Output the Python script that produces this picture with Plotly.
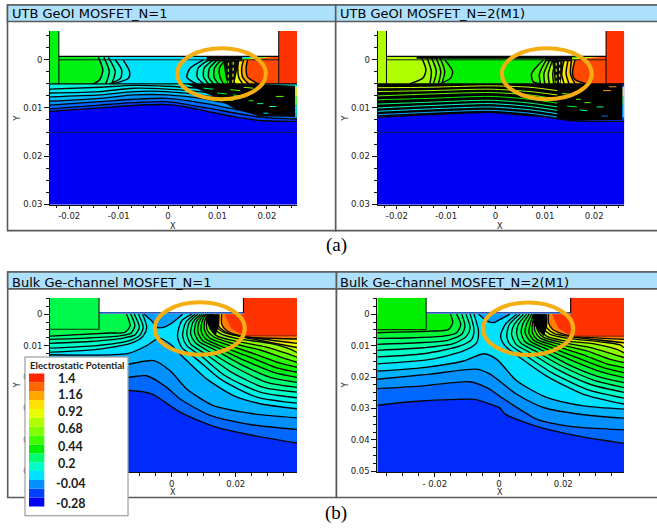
import plotly.graph_objects as go

W, H = 657, 529
YS = 1.006

# ---------- legend ----------
LEGEND_LEVELS = [-0.28,-0.16,-0.04,0.08,0.2,0.32,0.44,0.56,0.68,0.8,0.92,1.04,1.16,1.28,1.4]
LEGEND_COLORS = ["#0000f4","#0040ff","#0090ff","#00e0ff","#00ffc8","#00ff70","#00f000","#40ff00",
                 "#80ff00","#b0ff00","#e8ff00","#ffe000","#ffa800","#ff6800","#ff2800"]
LEGEND_LABELS = ["1.4","1.16","0.92","0.68","0.44","0.2","-0.04","-0.28"]

# ---------- axis ticks (values in um) ----------
UTB_XTICKS = [-0.02,-0.01,0,0.01,0.02]
UTB_XTEXT = ["-0.02","-0.01","0","0.01","0.02"]
UTB_YTICKS = [0,0.01,0.02,0.03]
UTB_YTEXT = ["0","0.01","0.02","0.03"]
BULK_XTICKS = [-0.02,0,0.02]
BULK_XTEXT = ["- 0.02","0","0.02"]
BULK_YTICKS = [0,0.01,0.02,0.03,0.04,0.05]
BULK_YTEXT = ["0","0.01","0.02","0.03","0.04","0.05"]

# ---------- UTB GeOI N=1 : contours, nm ----------
A1_SPAN_X = [[-23.9,-13.8,-7,-0.3,3.1,7.8,13.2,18.6,26.1],
             [-23.9,-13.8,-7,-0.3,7.8,18.6,26.1],[-23.9,-13.8,-7,-0.3,7.8,18.6,26.1],
             [-23.9,-13.8,-7,-0.3,7.8,18.6,26.1],[-23.9,-13.8,-7,-0.3,7.8,18.6,26.1],
             [-23.9,-13.8,-7,-0.3,7.8,18.6,26.1],[-23.9,-13.8,-7,-0.3,7.8,18.6,26.1]]
A1_SPAN_Y = [[10.7,10,9.5,9.3,9.7,10.7,11.8,12.6,12.8],
             [10.2,9.4,8.9,8.7,10,11.9,12.3],[9.4,8.7,8.2,8,9.1,11.3,11.8],
             [8.6,8,7.3,7.3,8.2,10.4,11.4],[7.7,7.3,6.6,6.6,7.5,9.7,11.1],
             [6.9,6.6,5.9,6.1,6.8,9,10.4],[6.1,5.7,5.3,5.5,6.1,8.3,9.7]]
A1_SPAN_V = [-0.16,-0.1,-0.04,0.02,0.08,0.12,0.16]
A1_DENSE_X = [3.8,9.2,13.2,18.6,25.7,25.7,18]
A1_DENSE_Y = [5,7.6,10,11.8,11.8,5.4,5]
A1_DASH_X = [[21.8,23.4],[18,19.3],[20.5,21.9],[19.3,20.3],[16.3,17.3],[7.2,9.2],[9.9,11.9],[12.6,14.6],[9.2,10.9],[11.9,13.2],[13.2,14.9],[15.3,17.3]]
A1_DASH_Y = [[7.6,7.6],[9.1,9.1],[9.7,9.7],[11.1,11.1],[8.5,8.5],[5.9,6.1],[6.9,7.1],[6.2,6.4],[8,8.2],[8.3,8.5],[7.3,7.5],[5.7,5.9]]
A1_DASH_V = [0.6,0.3,0.2,0.1,0.5,0.3,0.4,0.6,0.3,0.4,0.5,0.7]
A1_CHANNEL_V = 0.08
A1_SOURCE_V = 0.42
A1_LEFT_X = [[-9.1,-7.8,-8,-11.1],[-10.7,-9.4,-9.6,-11.8],[-12.1,-10.7,-11.4],[-13,-11.9,-12.6],[-14.1,-13.2,-13.8,-15.1]]
A1_LEFT_Y = [[0,2.4,3.8,5],[0,2.1,3.8,5],[-0.5,2.4,5],[-0.5,2.4,5],[-0.5,2.1,4.1,5]]
A1_LEFT_V = [0.14,0.2,0.26,0.32,0.42]
A1_RIGHT_X = [[7.2,4.5,3.8,5.8],[8.2,6.1,5.9,7.2],[9.2,7.3,7.2,8.2],[10,8.4,8.2,9.2],[10.8,9.4,9.3,10.2],[11.6,10.4,10.5,11.2],
              [12.4,11.6,11.8,12.2],[13.2,12.9,12.9,13.6],[14.3,14.1,14.3,15.1],[15.3,14.9,15.1,16.3],[16.1,15.8,16.1,18.3]]
A1_RIGHT_Y = [[0,1.7,3.6,5]]*11
A1_RIGHT_V = [0.14,0.2,0.28,0.34,0.4,0.44,0.5,0.92,1.04,1.16,1.34]
A1_TOPDARK_X = [7.8,15,15,7.8]
A1_TOPDARK_Y = [-0.7,-0.7,0.3,0.3]
A1_CORE_X = [11,14.3,14,13.4,12.2,11.6]
A1_CORE_Y = [0,0,2,5,5,2.5]
A1_SPECK_X = [[12.2,12.2],[13.2,13.1]]
A1_SPECK_Y = [[0.6,4.8],[0.4,4.8]]
A1_SPECK_V = [0.7,0.95]

# ---------- UTB GeOI N=2 : contours, nm ----------
A2_SPAN_X = [[-23.9,-13.3,-1.1,4.3,9.7,15.1,26.1]]
A2_SPAN_Y = [[11.9,11.4,10.9,11.4,11.8,12.6,12.8]]
A2_SPAN_V = [-0.16]
A2_DENSE_X = [-23.9,-13.3,-1.1,4.3,9.7,15.1,25.7,25.7,-23.9]
A2_DENSE_Y = [11.8,11.3,10.8,11.3,11.7,12.5,12.5,5,5]
A2_STRIPE_X = [-23.9,-13.3,-1.1,7,12.5]
A2_STRIPE_Y = [[11.4,10.9,10.5,11.1,11.9],[10.7,10.2,9.8,10.4,11.2],[10,9.5,9.1,9.7,10.5],[9.2,8.8,8.4,9,9.8],
               [8.3,8,7.6,8.2,9],[7.5,7.1,6.8,7.3,8.2],[6.6,6.4,6.1,6.6,7.3],[5.8,5.7,5.4,5.7,6.4]]
A2_STRIPE_V = [0,0.1,0.2,0.3,0.45,0.6,0.75,0.85]
A2_DASH_X = [[21.8,23.4],[18,19.3],[20.5,21.9],[23,24.5],[16.3,17.3],[13.5,15.5],[14.5,16.5],[17,18.6],[13.9,15.2],[21.5,22.8]]
A2_DASH_Y = [[6.4,6.4],[8.9,8.9],[9.8,9.8],[5.6,5.6],[8.2,8.2],[7,7.2],[9.6,9.8],[10.4,10.6],[7.5,7.7],[11.7,11.7]]
A2_DASH_V = [1.2,0.6,0.3,1.2,0.6,0.6,0.4,0.3,0.7,-0.1]
A2_CHANNEL_V = 0.44
A2_SOURCE_V = 0.8
A2_LEFT_X = [[-10.3,-8.7,-9.1,-11.3],[-11.3,-10.3,-10.9],[-12.1,-11.1,-11.6],[-13,-12,-12.6],[-13.9,-13,-13.3],[-15,-14.1,-14.7,-17.4]]
A2_LEFT_Y = [[0,2.4,3.8,5],[-0.5,2.4,5],[-0.5,2.4,5],[-0.5,2.4,5],[-0.5,2.4,5],[-0.5,2.1,3.8,5]]
A2_LEFT_V = [0.52,0.58,0.64,0.7,0.76,0.8]
A2_RIGHT_X = [[9.7,7.3,7.6,9],[10.3,8.9,9.1],[11,9.8,10],[11.6,10.7,10.9],[12.2,11.6,11.8],[13,12.4,12.7],[13.9,13.4,13.9],
              [14.7,14.3,14.9],[15.4,15.2,16.1],[16.1,15.6,16.1,18.4]]
A2_RIGHT_Y = [[0,2.9,4.5,5],[0,2.9,5],[0,2.9,5],[0,2.9,5],[0,2.9,5],[0,2.9,5],[0,2.9,5],[0,2.9,5],[0,2.9,5],[0,2.9,4.1,5]]
A2_RIGHT_V = [0.52,0.6,0.68,0.76,0.84,0.92,1.0,1.08,1.16,1.34]
A2_TOPDARK_X = [10,15.5,15.5,10]
A2_TOPDARK_Y = [-0.7,-0.7,0.3,0.3]
A2_TOPDARK2_X = [-16,10,10,-16]
A2_TOPDARK2_Y = [-0.7,-0.7,-0.2,-0.2]
A2_CORE_X = [11.4,13.6,13.6,13.2,12,11.8]
A2_CORE_Y = [0,0,2,5,5,2.5]
A2_SPECK_X = [[12.3,12.3],[13,13]]
A2_SPECK_Y = [[0.6,4.8],[0.4,4.8]]
A2_SPECK_V = [0.8,1.0]

# ---------- Bulk N=1 : contours, nm ----------
B1_SPAN_X = [[-38,-27.6,-13.5,-6.3,-0.5,2.6,13,25.5,39.1],
             [-38,-27.6,-13.5,-7.8,-1.6,2.6,12,24.5,39.1],
             [-38,-27.6,-13.5,-5.7,-0.5,4.7,13,25.5,39.1],
             [-38,-13.5,-7.8,-3.9,-0.5,3.6,10.9,19.3,27.6,39.1]]
B1_SPAN_Y = [[25.9,24.8,24.3,25.4,29.1,31.2,35.7,38.6,41],
             [21.7,20.9,20.1,19.6,23.3,27,32.2,35.1,36.7],
             [17.4,16.7,15.9,14.8,18,23.8,29.1,31.7,33],
             [12.9,12.5,10,7.6,9.5,13.7,20.6,25.9,28.5,30.1]]
B1_SPAN_V = [-0.1,-0.04,0.01,0.08]
B1_TOPLOBE_X = [-8.6,-6.3,-4.5,-2.6,-0.5,3.4]
B1_TOPLOBE_Y = [0,2.1,4.2,4.2,3.2,0]
B1_LEFT_X = [[-9.1,-7.8,-8.9,-12,-22.4,-38],[-10.4,-8.9,-10.1,-13.5,-23.4,-38],[-11.7,-10.1,-11.5,-15.1,-25.5,-38],
             [-12.8,-11.5,-12.8,-16.2,-26.6,-38],[-14.1,-13,-14.6,-19.3,-38]]
B1_LEFT_Y = [[0,4.2,6.9,9,11.1,12.1],[0,4.2,6.9,8.5,10,10.8],[0,4.2,6.6,7.6,8.7,9.3],[0,3.7,6.1,6.9,7.6,8],[0,3.7,5.8,6,7]]
B1_LEFT_V = [0.16,0.2,0.26,0.3,0.36]
B1_SOURCE_V = 0.36
B1_RIGHT_X = [[6.3,3.1,1.8,3.1,7.8,15.1,26.6,39.1],[7.3,4.4,3.4,4.7,9.4,16.7,27.6,39.1],[8.1,5.5,4.7,5.9,10.9,18.2,28.6,39.1],
              [8.9,6.6,5.9,7.3,12.2,19.8,29.7,39.1],[9.5,7.6,7.1,8.5,13.5,21.4,30.7,39.1],[10.1,8.5,8.2,9.7,14.6,22.9,31.8,39.1],
              [10.6,9.4,9.3,10.7,15.9,24.5,32.8,39.1],[11.1,10.2,10.3,11.8,17.2,26,33.9,39.1],[11.7,10.9,11.1,13,18.2,27.6,34.9,39.1],
              [12.2,11.7,12.2,14.1,19.5,29.2,35.9,39.1],[12.7,12.5,13.2,15.3,20.5,30.7,37,39.1],[13.2,13.2,14.1,16.4,21.9,39.1],
              [14.1,14.1,15.1,18.2,22.4,39.1],[15.6,15.6,17.2,22.4,39.1]]
B1_RIGHT_Y = [[0,2.1,6.9,10.6,14.3,20.6,26.4,28.3],[0,2.6,6.9,10,13.5,19.6,24.8,26.6],[0,2.6,6.3,9.5,12.9,18.2,23.3,24.8],
              [0,2.6,6.3,9,12.2,16.9,21.7,23.3],[0,2.6,5.8,8.7,11.4,15.9,20.1,21.7],[0,2.6,5.8,8.5,10.8,14.8,18.5,20.1],
              [0,2.6,5.8,8,10.4,13.7,17.1,18.5],[0,2.6,5.3,7.6,9.7,12.7,15.6,16.9],[0,2.6,5.1,7.2,9.1,11.4,14,15.3],
              [0,2.6,4.8,6.9,8.5,10.4,12.5,13.7],[0,2.6,4.4,6.3,7.8,9.3,11.1,12.2],[0,2.6,4.2,5.9,7.2,10.6],
              [0,2.6,4.4,6.3,7.1,9.3],[0,3.2,5.3,7.1,7.9]]
B1_RIGHT_V = [0.14,0.2,0.26,0.32,0.38,0.42,0.46,0.52,0.62,0.72,0.84,0.94,1.06,1.24]
B1_WEDGE_X = [10.7,15,14.8,13.6,11.7,10.7]
B1_WEDGE_Y = [0,0,3.7,7,4.6,1.6]

# ---------- Bulk N=2 : contours, nm ----------
B2_SPAN_X = [[-37.9,-26.7,-13.2,-7.5,-2.8,0.3,1.9,11.7,25.2,38.9],
             [-37.9,-23.6,-9,-3.8,2.4,11.7,22.1,38.9],
             [-37.9,-21.5,-7,-2.8,5.5,13.8,26.3,38.9],
             [-37.9,-23.6,-11.1,-4.7,-0.7,5.5,14.8,26.3,38.9]]
B2_SPAN_Y = [[29,27.8,27.1,27.1,28.6,29.9,31.8,35.7,38.9,41.1],
             [23.7,22.8,21.5,23.4,27.6,33.4,35.7,36.8],
             [20.7,19.1,17.5,19.1,25.5,29.7,32,33.1],
             [18.1,17,14.9,12.6,14.4,21.2,26.5,29.2,30.2]]
B2_SPAN_V = [-0.1,-0.04,0.01,0.08]
B2_TOPLOBE_X = [-6.4,-3.6,-1.8,0.3,3.4]
B2_TOPLOBE_Y = [0,2.2,2.7,1.7,0]
B2_LEFT_X = [[-7.8,-6.4,-7,-11.1,-21.5,-37.9],[-9,-7.8,-8.5,-12.1,-23.6,-37.9],[-10.3,-9,-10.1,-14.2,-23.6,-37.9],
             [-11.6,-10.6,-11.6,-16.3,-25.6,-37.9],[-13.2,-11.9,-13.2,-17.3,-26.7,-37.9],[-15.1,-14.4,-15.8,-21.5,-37.9]]
B2_LEFT_Y = [[0,5.4,9.1,11.7,14.4,15.8],[0,4.9,8,10.1,12.6,13.6],[0,4.3,7,9.4,10.7,11.5],[0,3.8,6.4,8.4,9.1,9.6],[0,3.3,5.9,7,7.5,7.7],[0,2.7,4.9,5.4,5.9]]
B2_LEFT_V = [0.16,0.2,0.26,0.32,0.38,0.44]
B2_SOURCE_V = 0.44
B2_RIGHT_X = [[5.5,1.9,0.5,1.9,6.5,14.8,26.3,38.9],[6.5,3.2,2.4,3.4,8.1,16.4,27.3,38.9],[7.6,4.7,3.9,5.3,9.7,18,28.3,38.9],
              [8.6,6,5.5,6.7,11.2,19.5,29.4,38.9],[9.4,7.4,6.9,8.1,12.8,21.1,30.4,38.9],[10.2,8.6,8.1,9.7,14.3,22.6,31.5,38.9],
              [10.7,9.7,9.3,10.9,15.9,24.2,32.5,38.9],[11.2,10.4,10.4,11.9,16.9,25.8,33.5,38.9],[11.7,11,11.2,13,18,27.3,34.6,38.9],
              [12.3,11.7,12,13.8,19,28.9,35.6,38.9],[12.8,12.5,13,14.8,20,30.4,36.7,38.9],[13.4,13.3,13.8,15.9,21.6,31.5,37.7,38.9],
              [14.1,14.1,14.8,17.1,22.6,38.9],[15.4,15.4,16.7,19.5,22.6,38.9]]
B2_RIGHT_Y = [[0,3.3,7,10.1,13.8,19.7,25.5,28.6],[0,3.3,7,9.6,13,18.6,23.9,26.7],[0,3.3,6.4,9.6,12.3,17.5,22.3,24.9],
              [0,3.3,6.4,9.1,11.7,16.5,21,23.4],[0,3.1,5.9,8.8,11.2,15.8,19.7,21.8],[0,3.1,5.9,8.6,10.9,14.7,18.3,20.2],
              [0,3.1,5.9,8.4,10.5,13.8,17,18.6],[0,3.1,5.9,8.1,9.9,12.8,15.8,17],[0,3.1,5.4,7.7,9.4,11.7,14.4,15.4],
              [0,3.1,5.2,7.3,8.9,10.7,12.8,13.8],[0,3.1,4.9,7,8.4,9.6,11.2,12.3],[0,3.1,4.5,6.4,7.7,8.8,9.8,10.7],
              [0,3.1,4.3,6.1,7.2,9.1],[0,2.7,4.9,6.2,7,8]]
B2_RIGHT_V = [0.14,0.2,0.26,0.32,0.38,0.42,0.46,0.52,0.62,0.72,0.84,0.94,1.06,1.24]
B2_WEDGE_X = [10.4,15,15,14,12,10.6]
B2_WEDGE_Y = [0,0,3.8,7,5,2.7]

# ---------- device geometry, nm ----------
UTB_XR = (-23.9, 26.1); UTB_YR = (30.1, -6.0)
UTB_CH_TOP, UTB_CH_BOT, UTB_CH_L, UTB_CH_R, UTB_BOX = -0.7, 5.0, -22.1, 22.4, 15.1
B1_XR = (-38, 39.1); B2_XR = (-37.9, 38.9); BULK_YR = (50.3, -5.2)
B1_SRC = (-22.7, 4.8); B1_DRN = (22.4, 6.9)
B2_SRC = (-22.7, 4.9); B2_DRN = (22.3, 7.0)
DRAIN_V = 1.38
BULK_BASE_V = -0.2

# ---------- helpers ----------
def hex2rgb(h):
    return [int(h[i:i+2], 16) for i in (1, 3, 5)]

def colour(v):
    L = LEGEND_LEVELS
    if v <= L[0]:
        return LEGEND_COLORS[0]
    if v >= L[-1]:
        return LEGEND_COLORS[-1]
    for i in range(len(L) - 1):
        if L[i] <= v <= L[i + 1]:
            t = (v - L[i]) / (L[i + 1] - L[i])
            a, b = hex2rgb(LEGEND_COLORS[i]), hex2rgb(LEGEND_COLORS[i + 1])
            return "rgb(%d,%d,%d)" % tuple(round(p + (q - p) * t) for p, q in zip(a, b))

fig = go.Figure()

def um(seq):
    return [a / 1000 for a in seq]

def area(n, X, Y, col):
    fig.add_trace(go.Scatter(x=um(X), y=um(Y), mode="lines", fill="toself", fillcolor=col,
                             line=dict(width=0, color=col), xaxis="x%d" % n, yaxis="y%d" % n,
                             hoverinfo="skip", showlegend=False))

def stroke(n, X, Y, col="#050505", w=1.35, smooth=True, dash="solid"):
    fig.add_trace(go.Scatter(x=um(X), y=um(Y), mode="lines",
                             line=dict(width=w, color=col, dash=dash, shape="spline" if smooth else "linear", smoothing=0.7),
                             xaxis="x%d" % n, yaxis="y%d" % n, hoverinfo="skip", showlegend=False))

def rect(n, x0, x1, y0, y1, col):
    area(n, [x0, x1, x1, x0], [y0, y0, y1, y1], col)

def draw_utb(n, sx, sy, sv, dense_x, dense_y, dash_x, dash_y, dash_v, ch_v, src_v,
             lx, ly, lv, rx, ry, rv, top_x, top_y, core, stripes=None, top2=None):
    x0, x1 = UTB_XR
    y1, y0 = UTB_YR
    rect(n, x0, x1, UTB_CH_BOT, y1, colour(-0.28))
    stroke(n, [x0, x1], [UTB_BOX, UTB_BOX], "#101060", 1, False)
    for X, Y, v in zip(sx, sy, sv):
        area(n, X + [x1, x0], Y + [UTB_CH_BOT, UTB_CH_BOT], colour(v))
    for X, Y in zip(sx, sy):
        stroke(n, X, Y)
    area(n, dense_x, dense_y, "#000000")
    if stripes:
        for Y, v in zip(stripes[1], stripes[2]):
            stroke(n, stripes[0], Y, colour(v), 1.0)
    for X, Y, v in zip(dash_x, dash_y, dash_v):
        stroke(n, X, Y, colour(v), 1.0, False)
    rect(n, UTB_CH_L, UTB_CH_R, UTB_CH_TOP, UTB_CH_BOT, colour(ch_v))
    for X, Y, v in zip(lx, ly, lv):
        area(n, X + [UTB_CH_L, UTB_CH_L], Y + [UTB_CH_BOT, UTB_CH_TOP], colour(v))
    for X, Y, v in zip(rx, ry, rv):
        area(n, X + [UTB_CH_R, UTB_CH_R], Y + [UTB_CH_BOT, UTB_CH_TOP], colour(v))
    for X, Y in zip(lx + rx, ly + ry):
        stroke(n, X, Y, w=1.5)
    area(n, core[0], core[1], "#0a0a0a")
    for X, Y, v in zip(core[2], core[3], core[4]):
        stroke(n, X, Y, colour(v), 1.1, False, dash="dot")
    area(n, top_x, top_y, "#000000")
    if top2:
        area(n, top2[0], top2[1], "#000000")
    rect(n, x0, UTB_CH_L, y0, UTB_CH_BOT, colour(src_v))
    rect(n, UTB_CH_R, x1, y0, UTB_CH_BOT, colour(DRAIN_V))
    stroke(n, [UTB_CH_L, UTB_CH_R], [UTB_CH_TOP, UTB_CH_TOP], w=1.2, smooth=False)
    stroke(n, [UTB_CH_L, UTB_CH_R], [0, 0], "#202020", 1, False)
    stroke(n, [x0, x1], [UTB_CH_BOT, UTB_CH_BOT], w=1.3, smooth=False)
    stroke(n, [UTB_CH_L, UTB_CH_L], [y0, UTB_CH_BOT], w=1, smooth=False)
    stroke(n, [UTB_CH_R, UTB_CH_R], [y0, UTB_CH_BOT], w=1, smooth=False)
    stroke(n, [x1 - 0.2, x1 - 0.2], [5.6, 7.5], colour(1.0), 1.6, False)
    stroke(n, [x1 - 0.2, x1 - 0.2], [7.5, 9.5], colour(0.6), 1.6, False)
    stroke(n, [x1 - 0.2, x1 - 0.2], [9.5, 12.0], colour(0.1), 1.6, False)

def draw_bulk(n, xr, src, drn, sx, sy, sv, tx, ty, lx, ly, lv, src_v, rx, ry, rv, wx, wy):
    x0, x1 = xr
    yb, yt = BULK_YR
    rect(n, x0, x1, 0, yb, colour(BULK_BASE_V))
    for X, Y, v in zip(sx, sy, sv):
        area(n, X + [x1, x0], Y + [0, 0], colour(v))
    area(n, tx, ty, colour(-0.02))
    for X, Y, v in zip(lx, ly, lv):
        area(n, X + [x0], Y + [0], colour(v))
    for X, Y, v in zip(rx, ry, rv):
        area(n, X + [x1], Y + [0], colour(v))
    for X, Y in zip(sx + lx + rx + [tx], sy + ly + ry + [ty]):
        stroke(n, X, Y)
    area(n, wx, wy, "#000000")
    rect(n, x0, src[0], yt, src[1], colour(src_v))
    rect(n, drn[0], x1, yt, drn[1], colour(DRAIN_V))
    area(n, [wx[1] + 1.5, drn[0], drn[0], wx[1] + 3.5], [0, 0, drn[1], 4.5], colour(DRAIN_V))
    stroke(n, [src[0], drn[0]], [-0.4, -0.4], "#2a5ab8", 1.6, False)
    stroke(n, [x0, src[0], src[0]], [src[1], src[1], yt], "#103010", 1.2, False)
    stroke(n, [drn[0], drn[0]], [yt, -0.4], "#200000", 1.2, False)
    stroke(n, [drn[0], x1], [drn[1], drn[1]], "#802000", 1, False)

draw_utb(1, A1_SPAN_X, A1_SPAN_Y, A1_SPAN_V, A1_DENSE_X, A1_DENSE_Y, A1_DASH_X, A1_DASH_Y, A1_DASH_V,
         A1_CHANNEL_V, A1_SOURCE_V, A1_LEFT_X, A1_LEFT_Y, A1_LEFT_V, A1_RIGHT_X, A1_RIGHT_Y, A1_RIGHT_V,
         A1_TOPDARK_X, A1_TOPDARK_Y, (A1_CORE_X, A1_CORE_Y, A1_SPECK_X, A1_SPECK_Y, A1_SPECK_V))
draw_utb(2, A2_SPAN_X, A2_SPAN_Y, A2_SPAN_V, A2_DENSE_X, A2_DENSE_Y, A2_DASH_X, A2_DASH_Y, A2_DASH_V,
         A2_CHANNEL_V, A2_SOURCE_V, A2_LEFT_X, A2_LEFT_Y, A2_LEFT_V, A2_RIGHT_X, A2_RIGHT_Y, A2_RIGHT_V,
         A2_TOPDARK_X, A2_TOPDARK_Y, (A2_CORE_X, A2_CORE_Y, A2_SPECK_X, A2_SPECK_Y, A2_SPECK_V),
         stripes=(A2_STRIPE_X, A2_STRIPE_Y, A2_STRIPE_V), top2=(A2_TOPDARK2_X, A2_TOPDARK2_Y))
draw_bulk(3, B1_XR, B1_SRC, B1_DRN, B1_SPAN_X, B1_SPAN_Y, B1_SPAN_V, B1_TOPLOBE_X, B1_TOPLOBE_Y,
          B1_LEFT_X, B1_LEFT_Y, B1_LEFT_V, B1_SOURCE_V, B1_RIGHT_X, B1_RIGHT_Y, B1_RIGHT_V, B1_WEDGE_X, B1_WEDGE_Y)
draw_bulk(4, B2_XR, B2_SRC, B2_DRN, B2_SPAN_X, B2_SPAN_Y, B2_SPAN_V, B2_TOPLOBE_X, B2_TOPLOBE_Y,
          B2_LEFT_X, B2_LEFT_Y, B2_LEFT_V, B2_SOURCE_V, B2_RIGHT_X, B2_RIGHT_Y, B2_RIGHT_V, B2_WEDGE_X, B2_WEDGE_Y)

# legend subplot: white card (a bar, so the colour bars can sit above it) and stepped colour bar
LEG_YR = (-0.471, 1.69)
fig.add_trace(go.Bar(x=[0.5], y=[LEG_YR[1] - LEG_YR[0]], base=[LEG_YR[0]], width=1,
                     marker=dict(color="white", line=dict(color="#8a8a8a", width=2)),
                     xaxis="x5", yaxis="y5", hoverinfo="skip", showlegend=False))
fig.add_trace(go.Bar(x=[0.117] * len(LEGEND_LEVELS), y=[0.12] * len(LEGEND_LEVELS),
                     base=[v - 0.06 for v in LEGEND_LEVELS], width=0.147,
                     marker=dict(color=LEGEND_COLORS, line=dict(width=0)),
                     xaxis="x5", yaxis="y5", hoverinfo="skip", showlegend=False))

# ---------- layout ----------
TICK_FONT = dict(family="DejaVu Sans", size=8.5, color="#222222")

def dom_x(a, b):
    return [a / W, b / W]

def dom_y(a, b):
    return [1 - b * YS / H, 1 - a * YS / H]

def axes(n, dx, dy, xr, yr, xt, xl, yt, yl, xminor, yminor):
    fig.layout["xaxis%d" % n] = dict(domain=dom_x(*dx), range=um(xr), anchor="y%d" % n, tickmode="array",
        tickvals=xt, ticktext=xl, ticks="outside", ticklen=3.5, tickwidth=1, tickcolor="#111", tickfont=TICK_FONT,
        showgrid=False, zeroline=False, showline=True, linecolor="#111", linewidth=1, fixedrange=True,
        minor=dict(dtick=xminor, tick0=0, ticks="outside", ticklen=2.5, tickcolor="#111", showgrid=False))
    fig.layout["yaxis%d" % n] = dict(domain=dom_y(*dy), range=um(yr), anchor="x%d" % n, tickmode="array",
        tickvals=yt, ticktext=yl, ticks="outside", ticklen=5, tickwidth=1, tickcolor="#111", tickfont=TICK_FONT,
        showgrid=False, zeroline=False, showline=True, linecolor="#111", linewidth=1, fixedrange=True,
        minor=dict(dtick=yminor, tick0=0, ticks="outside", ticklen=3, tickcolor="#111", showgrid=False))

axes(1, (50, 297), (31, 205), UTB_XR, UTB_YR, UTB_XTICKS, UTB_XTEXT, UTB_YTICKS, UTB_YTEXT, 0.0025, 0.0025)
axes(2, (377.6, 624.3), (31, 205), UTB_XR, UTB_YR, UTB_XTICKS, UTB_XTEXT, UTB_YTICKS, UTB_YTEXT, 0.0025, 0.0025)
axes(3, (50, 297), (298.3, 473), B1_XR, BULK_YR, BULK_XTICKS, BULK_XTEXT, BULK_YTICKS, BULK_YTEXT, 0.005, 0.0025)
axes(4, (377.3, 624), (298.3, 473), B2_XR, BULK_YR, BULK_XTICKS, BULK_XTEXT, BULK_YTICKS, BULK_YTEXT, 0.005, 0.0025)
fig.layout["xaxis5"] = dict(domain=dom_x(24.5, 128.5), range=[0, 1], anchor="y5", visible=False, fixedrange=True)
fig.layout["yaxis5"] = dict(domain=dom_y(357, 517), range=list(LEG_YR), anchor="x5", visible=False, fixedrange=True)

def pbox(x0, y0, x1, y1, **kw):
    return dict(type="rect", xref="paper", yref="paper", x0=x0 / W, x1=x1 / W, y0=1 - y0 * YS / H, y1=1 - y1 * YS / H, layer="below", **kw)

GREY = dict(color="#5a5a5a", width=1.6)
BAR = "#ade0fb"
shapes = [
    pbox(7.5, 5, 335.7, 231, line=GREY, fillcolor="white"),
    pbox(335.7, 5, 660, 231, line=GREY, fillcolor="white"),
    pbox(7.5, 5, 335.7, 21.5, line=GREY, fillcolor=BAR),
    pbox(335.7, 5, 660, 21.5, line=GREY, fillcolor=BAR),
    pbox(7.7, 272.5, 336.5, 498.3, line=GREY, fillcolor="white"),
    pbox(336.5, 272.5, 660, 498.3, line=GREY, fillcolor="white"),
    pbox(7.7, 272.5, 336.5, 289.3, line=GREY, fillcolor=BAR),
    pbox(336.5, 272.5, 660, 289.3, line=GREY, fillcolor=BAR),
]
ELLIPSES = [(1, 1.85, 19.8, -2.4, 8.2), (2, 1.3, 19.5, -2.4, 8.2), (3, -5.3, 22.8, -3.8, 12.9), (4, -5.0, 23.1, -3.7, 13.0)]
for n, a, b, c, d in ELLIPSES:
    shapes.append(dict(type="circle", xref="x%d" % n, yref="y%d" % n, x0=a / 1000, x1=b / 1000, y0=c / 1000, y1=d / 1000,
                       line=dict(color="#f5ae12", width=4), fillcolor="rgba(0,0,0,0)", layer="above"))

anns = []
def ann(text, x, y, size, family="DejaVu Sans", anchor="left", color="black", bold=False, angle=0):
    anns.append(dict(text=("<b>%s</b>" % text) if bold else text, xref="paper", yref="paper", x=x / W, y=1 - y * YS / H,
                     xanchor=anchor, yanchor="middle", showarrow=False, textangle=angle,
                     font=dict(family=family, size=size, color=color)))

TITLES = ["UTB GeOI MOSFET_N=1", "UTB GeOI MOSFET_N=2(M1)", "Bulk Ge-channel MOSFET_N=1", "Bulk Ge-channel MOSFET_N=2(M1)"]
TITLE_POS = [(9.5, 14), (337.5, 14), (10, 283), (337.5, 283)]
for t, (x, y) in zip(TITLES, TITLE_POS):
    ann(t, x, y, 13, family="DejaVu Sans")
for x, y in [(173, 226.5), (500, 226.5), (173, 493), (500, 493)]:
    ann("X", x, y, 8, anchor="center", color="#222")
for x, y in [(17, 119), (345, 119), (17, 386), (345, 386)]:
    ann("Y", x, y, 8.5, anchor="center", color="#222", angle=-90)
ann("(a)", 336, 245, 19, family="Liberation Serif", anchor="center")
ann("(b)", 336, 514, 19, family="Liberation Serif", anchor="center")
ann("Electrostatic Potential", 28, 366, 9.6, family="Lato", bold=True, color="#222")
LABEL_POS = [(55.5, 379), (55.5, 395), (55.5, 411.7), (55.5, 429), (55.5, 447), (55.5, 464), (53.5, 484), (53.5, 504)]
for t, (x, y) in zip(LEGEND_LABELS, LABEL_POS):
    ann(t, x, y, 12.5, family="Lato", bold=True, color="#1c1c1c")

fig.update_layout(width=W, height=H, margin=dict(l=0, r=0, t=0, b=0, pad=0), paper_bgcolor="white",
                  plot_bgcolor="rgba(0,0,0,0)", showlegend=False, barmode="overlay", shapes=shapes, annotations=anns)
fig.write_html("out.html", config=dict(displayModeBar=False),
               post_script="document.body.style.margin='0';document.body.style.overflow='hidden';")
